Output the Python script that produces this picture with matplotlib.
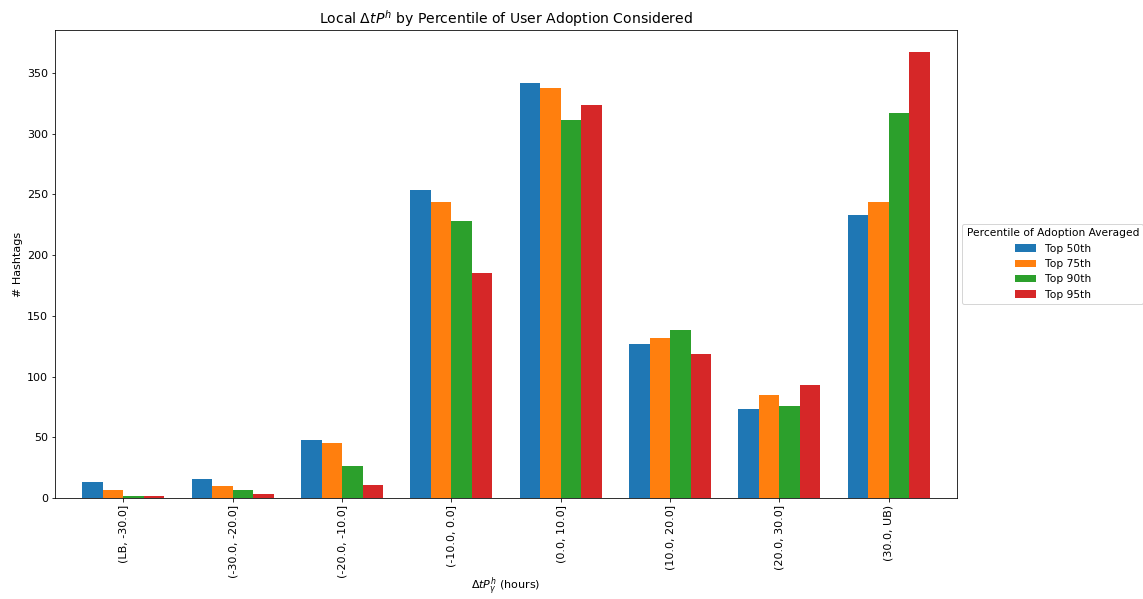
import numpy as np
import matplotlib
matplotlib.use("Agg")
import matplotlib.pyplot as plt

bins = ["(LB, -30.0]", "(-30.0, -20.0]", "(-20.0, -10.0]", "(-10.0, 0.0]",
        "(0.0, 10.0]", "(10.0, 20.0]", "(20.0, 30.0]", "(30.0, UB)"]
series_names = ["Top 50th", "Top 75th", "Top 90th", "Top 95th"]
top50 = [13, 16, 48, 254, 342, 127, 73, 233]
top75 = [7, 10, 45, 244, 338, 132, 85, 244]
top90 = [2, 7, 26, 228, 311, 138, 76, 317]
top95 = [2, 3, 11, 185, 324, 119, 93, 367]
colors = ["#1f77b4", "#ff7f0e", "#2ca02c", "#d62728"]

plt.rcParams["font.size"] = 11.1

fig = plt.figure(figsize=(1143 / 72, 599 / 72), dpi=72)
ax = fig.add_axes([55 / 1143, 1 - 498 / 599, 902 / 1143, 468 / 599])

x = np.arange(len(bins))
group_w = 0.75
bw = group_w / 4
for i, (vals, name, c) in enumerate(zip([top50, top75, top90, top95], series_names, colors)):
    ax.bar(x - group_w / 2 + bw * (i + 0.5), vals, width=bw, color=c, label=name)

ax.set_xlim(-0.625, len(bins) - 1 + 0.625)
ax.set_ylim(0, 385.5)
ax.set_xticks(x)
ax.set_xticklabels(bins, rotation=90)
ax.set_ylabel("# Hashtags")
ax.set_xlabel(r"$\Delta tP^h_\gamma$ (hours)", labelpad=-2)
ax.set_title(r"Local $\Delta tP^h$ by Percentile of User Adoption Considered", fontsize=14)
ax.legend(title="Percentile of Adoption Averaged", loc="center left",
          bbox_to_anchor=(1.0, 0.5), fontsize=10.6, title_fontsize=10.6)

fig.savefig("out.png", dpi=72)
